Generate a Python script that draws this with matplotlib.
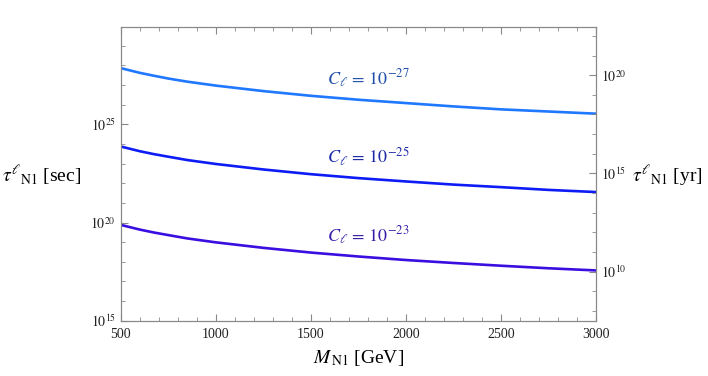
import matplotlib
matplotlib.use('Agg')
import matplotlib.pyplot as plt
import numpy as np
from matplotlib.ticker import LogLocator, FixedLocator, NullFormatter

plt.rcParams['font.family'] = ['Liberation Serif', 'DejaVu Serif']
plt.rcParams['mathtext.fontset'] = 'stix'

# neutrino mass (GeV) and log10 of lifetime in seconds
mass = [500, 550, 600, 675, 750, 850, 1000, 1250, 1500, 1750, 2000, 2250, 2500, 2750, 3000]
log_tau_c27 = [27.86, 27.74, 27.62, 27.47, 27.33, 27.17, 26.97, 26.69, 26.45, 26.25, 26.08, 25.91, 25.76, 25.65, 25.54]
log_tau_c25 = [23.87, 23.75, 23.63, 23.48, 23.35, 23.18, 22.98, 22.70, 22.46, 22.26, 22.09, 21.93, 21.80, 21.66, 21.55]
log_tau_c23 = [19.88, 19.76, 19.64, 19.49, 19.36, 19.19, 18.99, 18.71, 18.47, 18.27, 18.09, 17.94, 17.80, 17.67, 17.56]
curve_labels = [r'$C_\ell\,=\,10^{-27}$', r'$C_\ell\,=\,10^{-25}$', r'$C_\ell\,=\,10^{-23}$']
label_logy = [27.34, 23.32, 19.31]

sec_per_yr = 3.156e7
line_colors = ['#1f78ff', '#0d1cf5', '#3a0ee0']
text_colors = ['#1f4fa8', '#1c2aa8', '#3a1ea8']
frame = '#888888'

fig = plt.figure(figsize=(7.08, 3.76), dpi=100)
ax = fig.add_axes([0.1705, 0.147, 0.6715, 0.78])

for ys, c in zip([log_tau_c27, log_tau_c25, log_tau_c23], line_colors):
    ax.plot(mass, 10.0 ** np.array(ys), color=c, lw=1.9)
for lab, ly, c in zip(curve_labels, label_logy, text_colors):
    ax.text(1585, 10.0 ** ly, lab, color=c, fontsize=13, ha='left', va='center')

ax.set_yscale('log')
ax.set_xlim(500, 3000)
ax.set_ylim(1e15, 10 ** 29.93)
ax.xaxis.set_major_locator(FixedLocator([500, 1000, 1500, 2000, 2500, 3000]))
ax.xaxis.set_minor_locator(FixedLocator(np.arange(500, 3001, 100)))
ax.yaxis.set_major_locator(FixedLocator([1e15, 1e20, 1e25]))
ax.yaxis.set_minor_locator(LogLocator(base=10, subs=(1.0,), numticks=40))
ax.set_yticklabels([r'$10^{15}$', r'$10^{20}$', r'$10^{25}$'])
ax.yaxis.set_minor_formatter(NullFormatter())

for s in ax.spines.values():
    s.set_color(frame)
ax.tick_params(which='both', direction='in', color=frame, top=True, labelsize=10, labelcolor='#222222')
ax.tick_params(which='major', length=5)
ax.tick_params(which='minor', length=3)
ax.tick_params(axis='x', pad=5)
ax.tick_params(axis='y', which='both', right=False)

ax2 = ax.twinx()
ax2.set_yscale('log')
lo, hi = ax.get_ylim()
ax2.set_ylim(lo / sec_per_yr, hi / sec_per_yr)
ax2.yaxis.set_major_locator(FixedLocator([1e10, 1e15, 1e20]))
ax2.yaxis.set_minor_locator(LogLocator(base=10, subs=(1.0,), numticks=40))
ax2.set_yticklabels([r'$10^{10}$', r'$10^{15}$', r'$10^{20}$'])
ax2.yaxis.set_minor_formatter(NullFormatter())
for s in ax2.spines.values():
    s.set_color(frame)
ax2.tick_params(which='both', direction='in', color=frame, labelsize=10, labelcolor='#222222')
ax2.tick_params(which='major', length=5)
ax2.tick_params(which='minor', length=3)

ax.set_xlabel(r'$M_{\,\mathrm{N1}}$ [GeV]', fontsize=14, labelpad=5)
fig.text(0.003, 0.532, r'$\tau^{\ell}{}_{\mathrm{N1}}$ [sec]', fontsize=14, ha='left', va='center')
fig.text(0.893, 0.532, r'$\tau^{\ell}{}_{\mathrm{N1}}$ [yr]', fontsize=14, ha='left', va='center')

fig.savefig('out.png', dpi=100)
